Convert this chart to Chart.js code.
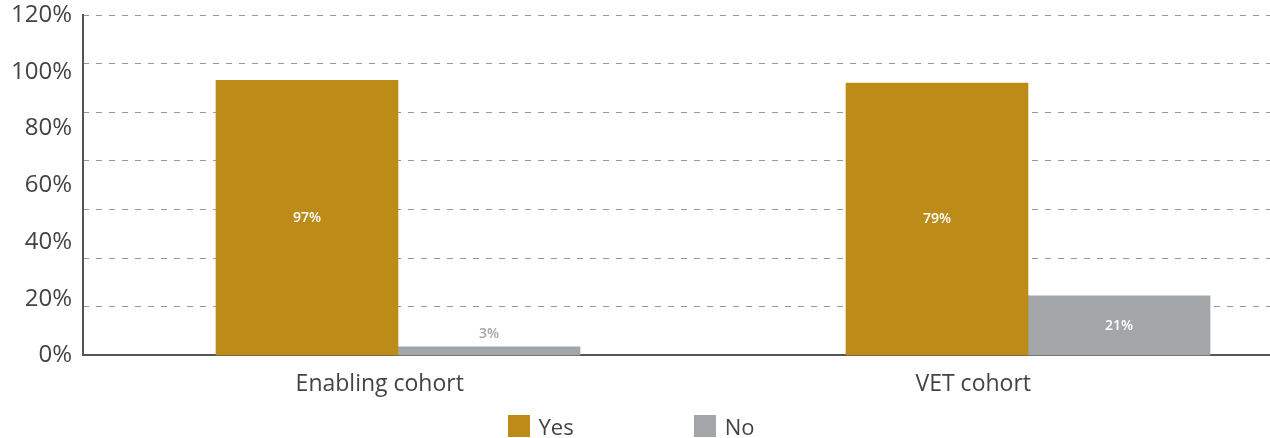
<!DOCTYPE html>
<html>
<head>
<meta charset="utf-8">
<script src="https://cdn.jsdelivr.net/npm/chart.js@4"></script>
<style>
  html, body { margin: 0; padding: 0; background: #fff; }
  #wrap { position: relative; width: 1270px; height: 438px; overflow: hidden; }
  #legend { position: absolute; left: -8px; right: 0; top: 415px; display: flex; justify-content: center; gap: 120px;
            font-family: "Open Sans", sans-serif; font-size: 22px; color: #444; line-height: 22px; }
  .item { display: flex; align-items: center; }
  .box { width: 22px; height: 22px; margin-right: 9px; }
</style>
</head>
<body>
<div id="wrap">
  <canvas id="c"></canvas>
  <div id="legend"></div>
</div>
<script>
// ---- data ----
const categories = ['Enabling cohort', 'VET cohort'];
const seriesNames = ['Yes', 'No'];
const yesValues = [97, 96];          // bar heights as drawn
const noValues = [3, 21];
const yesLabels = ['97%', '79%'];    // label texts as printed
const noLabels = ['3%', '21%'];
const tickStep = 20;                 // labelled ticks 0%..120%
const yMax = 120;
const gridIntervals = 7;             // dashed grid lines

const colors = { yes: '#BD8B18', no: '#A3A6A9' };

const barLabelsPlugin = {
  id: 'barLabels',
  afterDatasetsDraw(chart) {
    const ctx = chart.ctx;
    ctx.save();
    ctx.textAlign = 'center';
    ctx.textBaseline = 'middle';
    chart.data.datasets.forEach((ds, di) => {
      const meta = chart.getDatasetMeta(di);
      meta.data.forEach((bar, i) => {
        const txt = ds.valueLabels[i];
        const h = bar.base - bar.y;
        ctx.font = '600 14px "Open Sans", sans-serif';
        if (h >= 26) {
          ctx.fillStyle = '#ffffff';
          ctx.fillText(txt, bar.x, (bar.y + bar.base) / 2);
        } else {
          ctx.fillStyle = ds.backgroundColor;
          ctx.fillText(txt, bar.x, bar.y - 13);
        }
      });
    });
    ctx.restore();
  }
};

const toPoints = arr => arr.map((v, i) => ({ x: i, y: v }));

const chart = new Chart(document.getElementById('c'), {
  type: 'bar',
  data: {
    labels: categories,
    datasets: [
      { label: seriesNames[0], data: toPoints(yesValues), valueLabels: yesLabels,
        backgroundColor: colors.yes, xAxisID: 'xb', yAxisID: 'y', barThickness: 182 },
      { label: seriesNames[1], data: toPoints(noValues), valueLabels: noLabels,
        backgroundColor: colors.no, xAxisID: 'xb', yAxisID: 'y', barThickness: 182 }
    ]
  },
  options: {
    responsive: true,
    maintainAspectRatio: false,
    animation: false,
    layout: { padding: { top: 0, right: 0, bottom: 25, left: 0 } },
    plugins: { legend: { display: false }, tooltip: { enabled: false } },
    scales: {
      x: {
        type: 'category',
        position: 'bottom',
        offset: true,
        z: 2,
        grid: { display: false, drawTicks: false },
        border: { display: true, color: '#555555', width: 2 },
        ticks: { color: '#444444', padding: 15, font: { family: 'Open Sans', size: 23 } }
      },
      xb: {
        type: 'linear',
        display: false,
        offset: false,
        min: -0.5,
        max: -0.5 + 1187 / 630
      },
      y: {
        position: 'left',
        min: 0, max: yMax,
        grid: { display: false, drawTicks: false },
        border: { display: true, color: '#555555', width: 2 },
        ticks: { stepSize: tickStep, padding: 11, color: '#444444',
                 font: { family: 'Open Sans', size: 24 },
                 callback: v => v + '%' },
        afterFit: s => { s.paddingTop = 15; }
      },
      yg: {
        position: 'right',
        min: 0, max: yMax,
        z: 1,
        grid: { display: true, drawTicks: false, color: ctx => ctx.tick && ctx.tick.value === 0 ? 'rgba(0,0,0,0)' : '#999999', lineWidth: 1 },
        border: { display: false, dash: [6, 7] },
        ticks: { display: false, stepSize: yMax / gridIntervals, autoSkip: false },
        afterFit: s => { s.paddingTop = 0; }
      }
    }
  },
  plugins: [barLabelsPlugin]
});

// HTML legend from datasets
const legend = document.getElementById('legend');
chart.data.datasets.forEach(ds => {
  const it = document.createElement('div');
  it.className = 'item';
  const b = document.createElement('span');
  b.className = 'box';
  b.style.background = ds.backgroundColor;
  const t = document.createElement('span');
  t.textContent = ds.label;
  it.appendChild(b); it.appendChild(t);
  legend.appendChild(it);
});
</script>
</body>
</html>
